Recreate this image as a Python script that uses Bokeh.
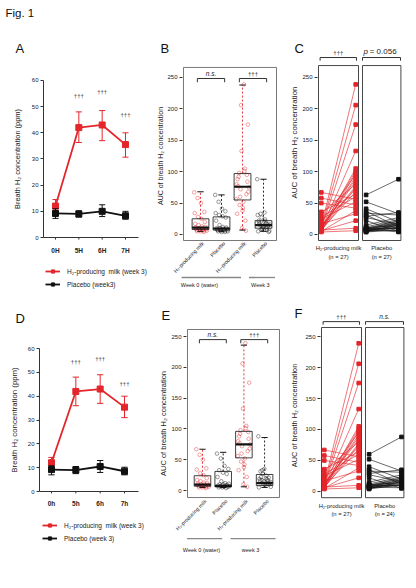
import math
from bokeh.plotting import figure
from bokeh.layouts import row, column
from bokeh.models import FixedTicker, Legend, LegendItem, Range1d
from bokeh.core.properties import value
from bokeh.embed import file_html
from bokeh.resources import INLINE

FONT = "Liberation Sans"
RED = "#e3262b"
BLACK = "#111111"
TXT = "#222222"

# ---------------- data ----------------
time_pos = [0, 1, 2, 3]
time_labels_A = ["0H", "5H", "6H", "7H"]
time_labels_D = ["0h", "5h", "6h", "7h"]

h2_mean_A = [12.0, 42.0, 43.0, 35.5]
h2_upper_A = [14.5, 48.0, 48.5, 40.0]
h2_lower_A = [10.0, 36.3, 37.0, 30.7]
pl_mean_A = [9.2, 9.0, 10.0, 8.3]
pl_upper_A = [11.0, 10.2, 12.5, 10.0]
pl_lower_A = [7.3, 7.8, 8.0, 7.0]
dagger_pos = [1, 2, 3]
dagger_y_A = [54.0, 55.5, 47.0]

h2_mean_D = [12.1, 42.0, 43.0, 35.4]
h2_upper_D = [14.3, 48.0, 49.0, 40.0]
h2_lower_D = [10.0, 36.0, 37.0, 31.0]
pl_mean_D = [9.2, 9.0, 10.5, 8.5]
pl_upper_D = [10.8, 10.5, 13.0, 10.2]
pl_lower_D = [7.0, 7.5, 8.0, 7.0]
dagger_y_D = [54.5, 55.5, 45.0]

legend_A = ["H\u2082-producing  milk (week 3)", "Placebo (week3)"]
legend_D = ["H\u2082-producing  milk (week 3)", "Placebo (week 3)"]

# individual AUC values (week 0 -> week 3), one entry per subject
h2_week0 = [67, 58, 50, 36, 34, 28, 25, 20, 17, 15, 13, 12, 11, 10, 10, 9, 9, 8, 8, 8, 7, 7, 6, 6, 5, 5, 4]
h2_week3 = [56, 47, 42, 64, 80, 60, 52, 95, 33, 72, 239, 84, 88, 206, 101, 175, 77, 133, 105, 68, 92, 10, 22, 75, 98, 38, 6]
pl_week0_C = [63, 52, 41, 37, 34, 31, 29, 27, 22, 15, 12, 11, 10, 10, 9, 9, 8, 8, 8, 7, 7, 6, 6, 5, 5, 4, 4]
pl_week3_C = [88, 33, 20, 12, 31, 8, 35, 16, 5, 27, 24, 14, 22, 9, 21, 4, 19, 11, 18, 6, 17, 13, 10, 16, 15, 11, 7]
pl_week0_F = [60, 52, 40, 35, 33, 29, 27, 22, 15, 12, 11, 10, 10, 9, 8, 8, 8, 7, 7, 6, 6, 5, 5, 4]
pl_week3_F = [88, 33, 20, 12, 31, 35, 16, 5, 27, 24, 14, 22, 9, 21, 19, 11, 18, 6, 17, 13, 10, 16, 15, 11]

# box plot summaries (whisker low, q1, median, q3, whisker high)
box_pos = [1, 2, 3, 4]
box_labels = ["H\u2082-producing milk", "Placebo", "H\u2082-producing milk", "Placebo"]
box_is_h2 = [True, False, True, False]
B_lo = [5, 5, 7, 5]
B_q1 = [8, 7, 55, 10]
B_med = [11, 9.5, 76, 15]
B_q3 = [25, 28, 97, 22]
B_hi = [68, 63, 238, 88]
E_lo = [5, 5, 6, 5]
E_q1 = [7, 6, 53, 8]
E_med = [9.7, 7.5, 75, 12]
E_q3 = [24, 31, 96, 26]
E_hi = [67, 62, 236, 86]
groups_B = ["Week 0 (water)", "Week 3"]
groups_E = ["Week 0 (water)", "week 3"]

auc_ticks = [0, 50, 100, 150, 200, 250]
conc_ticks = [0, 10, 20, 30, 40, 50, 60]
pair_names = ["H\u2082-producing milk", "Placebo"]
n_C = ["(n = 27)", "(n = 27)"]
n_F = ["(n = 27)", "(n = 24)"]
AUC_LABEL = "AUC of breath H\u2082 concentration"
CONC_LABEL = "Breath H\u2082 concentration (ppm)"


def base_fig(w, h, xr, yr):
    p = figure(width=w, height=h, x_range=Range1d(*xr), y_range=Range1d(*yr),
               output_backend="svg", toolbar_location=None, x_axis_location=None,
               min_border_left=0, min_border_right=0, min_border_top=0, min_border_bottom=0)
    p.outline_line_color = None
    p.grid.visible = False
    p.background_fill_color = "white"
    p.border_fill_color = "white"
    return p


def style_yaxis(p, at, ticks, bounds, label, label_size, standoff, line=False):
    ax = p.yaxis[0]
    ax.fixed_location = at
    ax.ticker = FixedTicker(ticks=ticks)
    ax.bounds = bounds
    ax.axis_line_color = "#333333" if line else None
    ax.axis_line_width = 1
    ax.major_tick_line_color = "#333333"
    ax.major_tick_out = 3
    ax.major_tick_in = 0
    ax.minor_tick_line_color = None
    ax.major_label_text_font = FONT
    ax.major_label_text_font_size = "6px"
    ax.major_label_text_color = TXT
    ax.major_label_standoff = 2
    ax.axis_label = label
    ax.axis_label_text_font = FONT
    ax.axis_label_text_font_size = label_size
    ax.axis_label_text_font_style = "normal"
    ax.axis_label_text_color = TXT
    ax.axis_label_standoff = standoff


def panel_letter(p, x, y, txt, size="13px"):
    p.text(x=[x], y=[y], text=[txt], text_font=value(FONT), text_font_size=size,
           text_align="left", text_baseline="middle", text_color="#111111")


def time_panel(g, xlabels, h2m, h2u, h2l, plm, plu, pll, dag_y, legs):
    p = base_fig(g["w"], g["h"], g["xr"], g["yr"])
    ax0, ax1 = g["axis_x"]
    # x axis (line, ticks, labels) at y = 0
    p.segment(x0=[ax0], x1=[ax1], y0=[0], y1=[0], line_color="#333333", line_width=1)
    p.segment(x0=time_pos, x1=time_pos, y0=[0] * 4, y1=[-g["tick"]] * 4, line_color="#333333", line_width=1)
    p.text(x=time_pos, y=[g["xly"]] * 4, text=xlabels, text_font=value(FONT), text_font_size="6.5px",
           text_font_style="bold", text_align="center", text_baseline="middle", text_color=TXT)
    cap = 0.13
    rends = []
    for m, u, l, c in ((h2m, h2u, h2l, RED), (plm, plu, pll, BLACK)):
        p.segment(x0=time_pos, y0=l, x1=time_pos, y1=u, line_color=c, line_width=1)
        p.segment(x0=[x - cap for x in time_pos], y0=u, x1=[x + cap for x in time_pos], y1=u,
                  line_color=c, line_width=1)
        p.segment(x0=[x - cap for x in time_pos], y0=l, x1=[x + cap for x in time_pos], y1=l,
                  line_color=c, line_width=1)
        rl = p.line(time_pos, m, line_color=c, line_width=1.8)
        rs = p.scatter(time_pos, m, marker="square", size=6, fill_color=c, line_color=c)
        rends.append([rl, rs])
    p.text(x=dagger_pos, y=dag_y, text=["\u2020\u2020\u2020"] * len(dagger_pos),
           text_font=value(FONT), text_font_size="6px", text_align="center",
           text_baseline="middle", text_color="#333333")
    style_yaxis(p, ax0, conc_ticks, (0, 60), CONC_LABEL, g["ls"], g["lso"], line=True)
    leg = Legend(items=[LegendItem(label=legs[0], renderers=rends[0]),
                        LegendItem(label=legs[1], renderers=rends[1])],
                 location=g["lloc"], orientation="vertical", margin=0, padding=0,
                 spacing=5, glyph_width=15, glyph_height=8, label_standoff=7, label_height=8,
                 label_text_font=FONT, label_text_font_size="6.5px", label_text_color=TXT,
                 border_line_color=None, background_fill_alpha=0)
    p.add_layout(leg, "center")
    return p


def box_panel(g, lo, q1, med, q3, hi, pts, groups):
    p = base_fig(g["w"], g["h"], g["xr"], g["yr"])
    p.quad(left=[g["bx"][0]], right=[g["bx"][1]], bottom=[g["by"][0]], top=[g["by"][1]],
           fill_color=None, line_color="#555555", line_width=0.8)
    for k, vals in enumerate(pts):
        n = len(vals)
        xs = [box_pos[k] + (((i * 7) % n) / (n - 1) - 0.5) * 0.6 for i in range(n)]
        col = RED if box_is_h2[k] else BLACK
        p.scatter(xs, vals, marker="circle", size=3.6, fill_color=None, line_color=col,
                  line_width=0.6, line_alpha=0.7)
    hw = 0.4
    left = [x - hw for x in box_pos]
    right = [x + hw for x in box_pos]
    wcol = [RED if h else BLACK for h in box_is_h2]
    p.segment(x0=box_pos, x1=box_pos, y0=q3, y1=hi, line_color=wcol, line_dash="2 2", line_width=0.9)
    p.segment(x0=box_pos, x1=box_pos, y0=lo, y1=q1, line_color=wcol, line_dash="2 2", line_width=0.9)
    cw = 0.15
    p.segment(x0=[x - cw for x in box_pos], x1=[x + cw for x in box_pos], y0=hi, y1=hi,
              line_color=BLACK, line_width=1)
    p.segment(x0=[x - cw for x in box_pos], x1=[x + cw for x in box_pos], y0=lo, y1=lo,
              line_color=BLACK, line_width=1)
    p.quad(left=left, right=right, bottom=q1, top=q3, fill_color=None, line_color=BLACK, line_width=0.8)
    p.segment(x0=left, x1=right, y0=med, y1=med, line_color=BLACK, line_width=2.2)
    # significance brackets
    by, d = g["bry"], 6
    bx0 = [box_pos[0] - 0.15, box_pos[2] - 0.15]
    bx1 = [box_pos[1] + 0.15, box_pos[3] + 0.15]
    p.multi_line(xs=[[a, a, b, b] for a, b in zip(bx0, bx1)],
                 ys=[[by - d, by, by, by - d] for _ in bx0], line_color="#333333", line_width=1)
    p.text(x=[(bx0[0] + bx1[0]) / 2], y=[by + 2], text=["n.s."], text_font=value(FONT),
           text_font_size="6.5px", text_font_style="italic", text_align="center",
           text_baseline="bottom", text_color=TXT)
    p.text(x=[(bx0[1] + bx1[1]) / 2], y=[by + 2], text=["\u2020\u2020\u2020"], text_font=value(FONT),
           text_font_size="6px", text_align="center", text_baseline="bottom", text_color=TXT)
    # rotated category labels (reading upwards, ending just under each box)
    p.text(x=[x + g["ldx"] for x in box_pos], y=[g["ly"]] * 4, text=box_labels, angle=g["ang"],
           text_font=value(FONT), text_font_size="5.2px", text_align="right",
           text_baseline="middle", text_color=TXT)
    # group lines
    p.segment(x0=g["gx0"], x1=g["gx1"], y0=[g["gy"]] * 2, y1=[g["gy"]] * 2,
              line_color="#888888", line_width=1.3)
    p.text(x=g["gtx"], y=[g["gty"]] * 2, text=groups, text_font=value(FONT), text_font_size="5.5px",
           text_align="center", text_baseline="middle", text_color=TXT)
    style_yaxis(p, g["axis_x"], auc_ticks, g["bounds"], AUC_LABEL, g["ls"], g["lso"])
    return p


def paired_panel(g, h2a, h2b, pla, plb, nlabels, right_text):
    p = base_fig(g["w"], g["h"], g["xr"], g["yr"])
    p.quad(left=[0, 1.1], right=[1, 2.06], bottom=[g["by"][0]] * 2, top=[g["by"][1]] * 2,
           fill_color=None, line_color="#333333", line_width=0.9)
    px = [0.07, 0.93, 1.19, 2.0]
    for a, b, x0, x1, c in ((pla, plb, px[2], px[3], BLACK), (h2a, h2b, px[0], px[1], RED)):
        p.multi_line(xs=[[x0, x1] for _ in a], ys=[[u, v] for u, v in zip(a, b)],
                     line_color=c, line_width=0.7, line_alpha=0.9)
        p.scatter([x0] * len(a) + [x1] * len(b), list(a) + list(b), marker="square", size=3.6,
                  fill_color=c, line_color=c)
    by, d = g["bry"], 5
    bx0 = [0.04, 1.1]
    bx1 = [0.95, 2.05]
    p.multi_line(xs=[[a, a, b, b] for a, b in zip(bx0, bx1)],
                 ys=[[by - d, by, by, by - d] for _ in bx0], line_color="#333333", line_width=1)
    p.text(x=[(bx0[0] + bx1[0]) / 2], y=[by + 3], text=["\u2020\u2020\u2020"], text_font=value(FONT),
           text_font_size="6px", text_align="center", text_baseline="bottom", text_color=TXT)
    if right_text == "p":
        p.text(x=[1.125], y=[by + 3], text=["p"], text_font=value(FONT), text_font_size="8px",
               text_font_style="italic", text_align="left", text_baseline="bottom", text_color=TXT)
        p.text(x=[1.28], y=[by + 3], text=["= 0.056"], text_font=value(FONT), text_font_size="8px",
               text_align="left", text_baseline="bottom", text_color=TXT)
    else:
        p.text(x=[(bx0[1] + bx1[1]) / 2], y=[by + 3], text=["n.s."], text_font=value(FONT),
               text_font_size="6.5px", text_font_style="italic", text_align="center",
               text_baseline="bottom", text_color=TXT)
    p.text(x=[0.5, 1.58], y=[g["ny"][0]] * 2, text=pair_names, text_font=value(FONT),
           text_font_size="5.8px", text_align="center", text_baseline="middle", text_color=TXT)
    p.text(x=[0.5, 1.58], y=[g["ny"][1]] * 2, text=nlabels, text_font=value(FONT),
           text_font_size="5.8px", text_align="center", text_baseline="middle", text_color=TXT)
    style_yaxis(p, g["axis_x"], auc_ticks, g["bounds"], AUC_LABEL, g["ls"], g["lso"])
    return p


# ---------------- top row (page y 0..290) ----------------
gA = dict(w=153, h=290, xr=(-2.357, 4.2), yr=(-20.25, 90.56), axis_x=(-0.514, 3.557),
          tick=0.8, xly=-5.0, lloc=(45, 2), ls="7.4px", lso=7)
pA = time_panel(gA, time_labels_A, h2_mean_A, h2_upper_A, h2_lower_A,
                pl_mean_A, pl_upper_A, pl_lower_A, dagger_y_A, legend_A)
panel_letter(pA, -2.143, 85.6, "Fig. 1", "11.5px")
panel_letter(pA, -1.714, 72.2, "A")

gB = dict(w=129, h=290, xr=(-1.238, 4.905), yr=(-89.2, 372.6), axis_x=0.143, bounds=(0, 250),
          bx=(0.19, 4.62), by=(-9.6, 266), bry=248.4, ldx=0.12, ly=-12.7, ang=0.8,
          gx0=[0.1, 3.31], gx1=[2.93, 4.55], gy=-68.5, gtx=[0.95, 3.85], gty=-81.2,
          ls="7px", lso=0)
pB = box_panel(gB, B_lo, B_q1, B_med, B_q3, B_hi,
               [h2_week0, pl_week0_C, h2_week3, pl_week3_C], groups_B)
panel_letter(pB, -0.905, 296.2, "B")

gC = dict(w=128, h=290, xr=(-0.9, 2.3), yr=(-89.2, 372.6), axis_x=-0.025, bounds=(0, 293),
          by=(-9.6, 269), bry=281.8, ny=(-22.3, -36.6), ls="8px", lso=0)
pC = paired_panel(gC, h2_week0, h2_week3, pl_week0_C, pl_week3_C, n_C, "p")
panel_letter(pC, -0.6, 296.2, "C")

# ---------------- bottom row (page y 290..560) ----------------
gD = dict(w=153, h=270, xr=(-2.096, 4.192), yr=(-28.95, 84.35), axis_x=(-0.493, 3.576),
          tick=0.8, xly=-5.0, lloc=(42, 18), ls="7.8px", lso=6)
pD = time_panel(gD, time_labels_D, h2_mean_D, h2_upper_D, h2_lower_D,
                pl_mean_D, pl_upper_D, pl_lower_D, dagger_y_D, legend_D)
panel_letter(pD, -1.48, 72.6, "D")

gE = dict(w=129, h=270, xr=(-1.367, 4.865), yr=(-113.6, 324.7), axis_x=0.227, bounds=(-32.4, 250),
          bx=(0.275, 4.72), by=(-11.4, 261.4), bry=245, ldx=0.15, ly=-16, ang=0.785,
          gx0=[0.25, 2.35], gx1=[1.95, 4.53], gy=-78, gtx=[0.95, 3.32], gty=-95.8,
          ls="7.5px", lso=0)
pE = box_panel(gE, E_lo, E_q1, E_med, E_q3, E_hi,
               [h2_week0, pl_week0_F, h2_week3, pl_week3_F], groups_E)
panel_letter(pE, -0.981, 284.1, "E")

gF = dict(w=128, h=270, xr=(-0.975, 2.225), yr=(-111.3, 324.2), axis_x=-0.025, bounds=(-4.8, 250),
          by=(-10, 264.5), bry=274, ny=(-22.6, -37.1), ls="7.4px", lso=3)
pF = paired_panel(gF, h2_week0, h2_week3, pl_week0_F, pl_week3_F, n_F, "ns")
panel_letter(pF, -0.675, 287.1, "F")

layout = column(row(pA, pB, pC), row(pD, pE, pF))
open("out.html", "w").write(file_html(layout, INLINE))
